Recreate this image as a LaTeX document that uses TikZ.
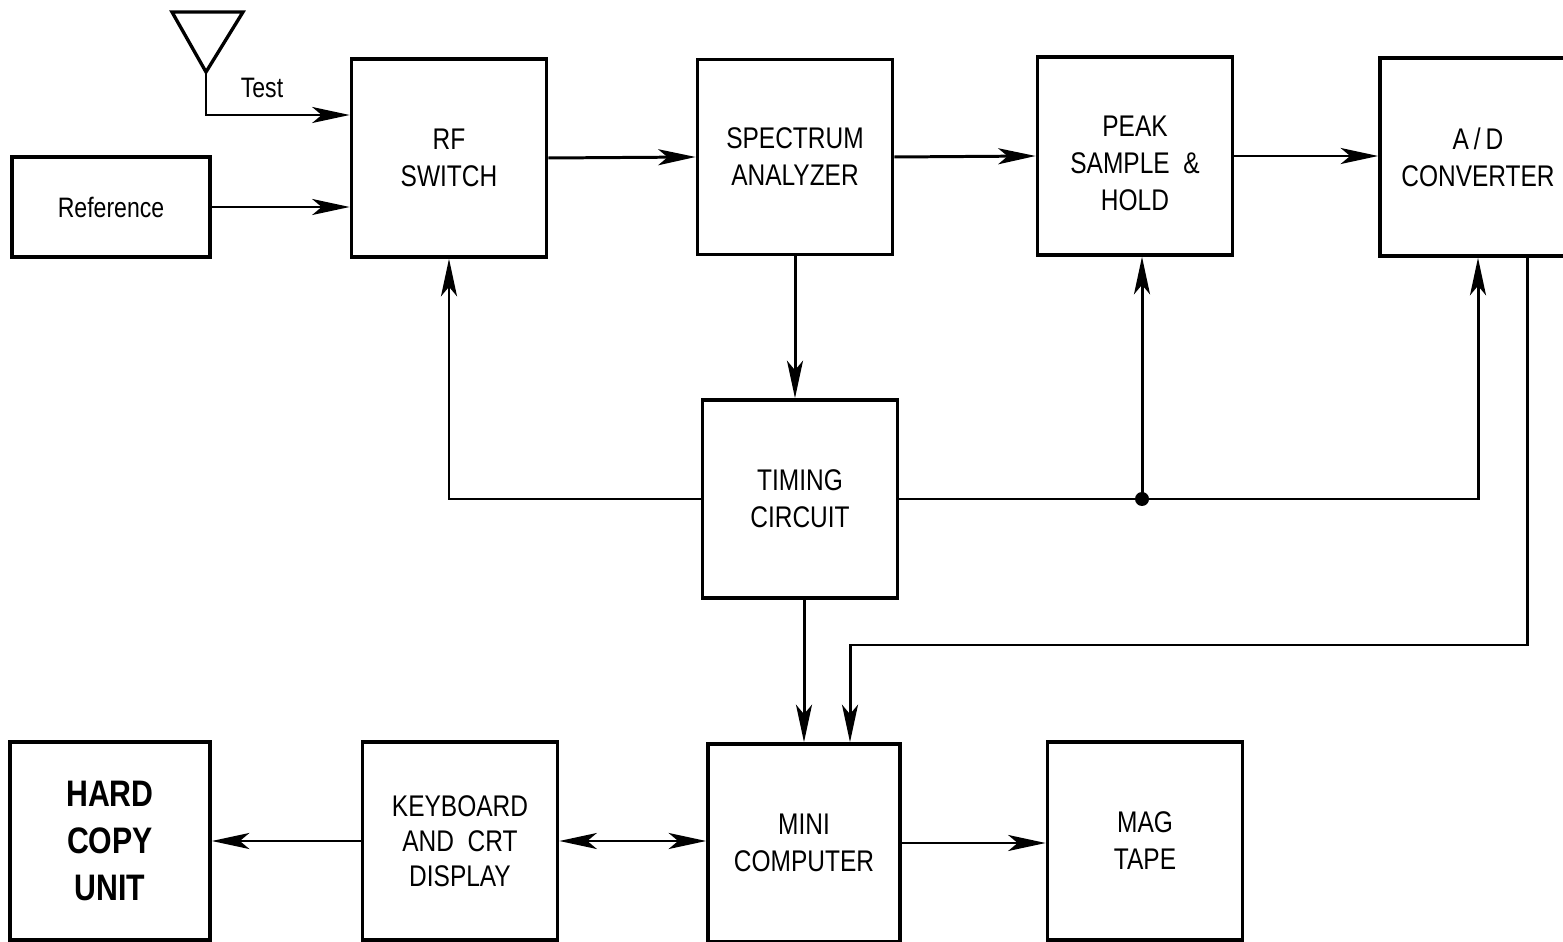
\documentclass[tikz,border=0pt]{standalone}
\usepackage{fontspec}
\setmainfont{Liberation Sans}[FakeStretch=0.82]
\usetikzlibrary{arrows.meta,positioning,calc}
\tikzset{
  blk/.style={draw, line width=2.1pt, inner sep=0pt, align=center,
    minimum width=3.9cm, minimum height=3.96cm,
    font=\fontsize{17}{21}\selectfont},
  tip/.tip={Stealth[length=7.5mm,width=3.2mm,inset=1.9mm]},
  arr/.style={-tip, line width=1.7pt},
  dblarr/.style={tip-tip, line width=1.7pt}
}
\begin{document}
\begin{tikzpicture}[x=0.02cm,y=-0.02cm]
  \useasboundingbox (0,0) rectangle (1563,942);
  % top row
  \node[blk, minimum width=3.96cm, minimum height=2cm,
    font=\fontsize{16}{20}\selectfont] (ref) at (111,207) {Reference};
  \node[blk] (rf) at (449,158) {RF\\SWITCH};
  \node[blk, minimum height=3.9cm] (sa) at (795,157) {SPECTRUM\\ANALYZER};
  \node[blk] (psh) at (1135,156) {\rule{0pt}{20pt}PEAK\\SAMPLE \ \&\\HOLD};
  \node[blk, minimum width=3.92cm] (ad) at (1478,157) {A\,/\,D\\CONVERTER};
  % middle
  \node[blk] (tc) at (800,499) {TIMING\\CIRCUIT};
  % bottom row
  \node[blk, minimum width=4cm,
    font=\fontsize{21}{27}\selectfont\bfseries] (hc) at (110,841) {HARD\\COPY\\UNIT};
  \node[blk, font=\fontsize{17}{20}\selectfont] (kb) at (460,841) {KEYBOARD\\AND \ CRT\\DISPLAY};
  \node[blk, minimum width=3.84cm] (mc) at (804,843) {MINI\\COMPUTER};
  \node[blk] (mag) at (1145,841) {MAG\\TAPE};

  % antenna
  \coordinate (ant) at (206,72);
  \draw[line width=1.9pt, line join=miter] (172,12) -- (243,12) -- (ant) -- cycle;
  \coordinate (bend) at (206,115);
  \draw[arr] (ant) -- (bend) -- (bend -| rf.west);
  \node[font=\fontsize{16}{18}\selectfont] (test) at (262,88) {Test};
  \draw[arr] (ref.east) -- (ref.east -| rf.west);

  % signal path
  \draw[arr] (rf.east) -- (sa.west);
  \draw[arr] (sa.east) -- (psh.west);
  \draw[arr] (psh.east) -- (psh.east -| ad.west);
  \draw[arr] (sa.south) -- (sa.south |- tc.north);

  % timing lines
  \draw[arr] (tc.west) -| (rf.south);
  \coordinate (jn) at (1142,499);
  \draw[arr] (tc.east) -| (ad.south);
  \draw[arr] (jn) -- (jn |- psh.south);
  \fill (jn) circle (7);

  % to computer
  \draw[arr] (tc.south -| mc.north) -- (mc.north);
  \coordinate (adout) at (1527,255);
  \coordinate (drop) at (850,645);
  \draw[arr] (adout) |- (drop) -- (drop |- mc.north);

  % outputs
  \draw[arr] (mc.east) -- (mc.east -| mag.west);
  \draw[dblarr] (kb.east) -- (kb.east -| mc.west);
  \draw[arr] (kb.west) -- (hc.east);
\end{tikzpicture}
\end{document}
